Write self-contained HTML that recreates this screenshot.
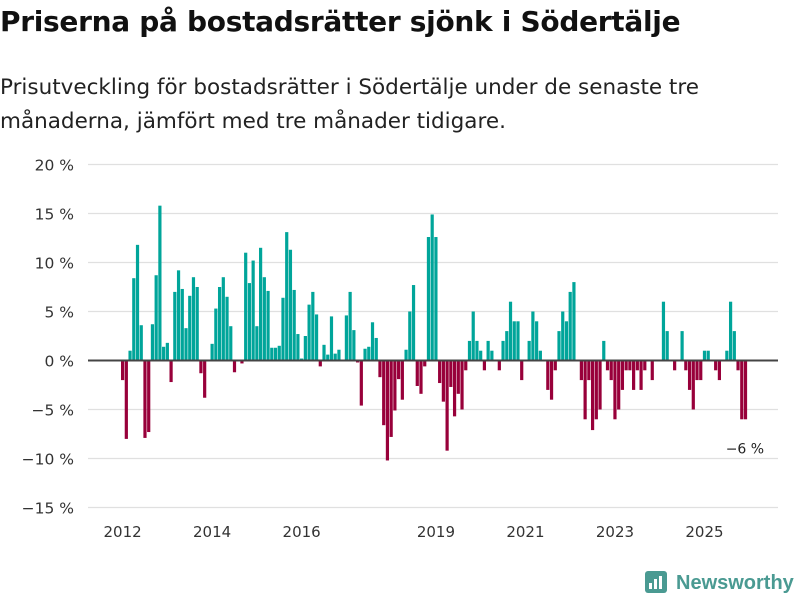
<!DOCTYPE html>
<html><head><meta charset="utf-8">
<style>
body{margin:0;background:#fff;font-family:"DejaVu Sans","Liberation Sans",sans-serif;}
#wrap{position:relative;width:800px;height:600px;overflow:hidden;}
h1{position:absolute;left:0;top:5px;margin:0;font-size:28px;font-weight:bold;color:#111;letter-spacing:-0.3px}
.sub{position:absolute;left:0;top:71px;margin:0;font-size:21.5px;line-height:34px;color:#222;}
</style></head><body>
<div id="wrap">
<h1>Priserna på bostadsrätter sjönk i Södertälje</h1>
<p class="sub">Prisutveckling för bostadsrätter i Södertälje under de senaste tre<br>månaderna, jämfört med tre månader tidigare.</p>
<svg id="chart" width="800" height="600" style="position:absolute;left:0;top:0"></svg>
</div>
<script>
const startYear = 2012;
const values = [
-2.0,-8.0,1.0,8.4,11.8,3.6,-7.9,-7.3,3.7,8.7,15.8,1.4,
1.8,-2.2,7.0,9.2,7.3,3.3,6.6,8.5,7.5,-1.3,-3.8,0,
1.7,5.3,7.5,8.5,6.5,3.5,-1.2,0,-0.3,11.0,7.9,10.2,
3.5,11.5,8.5,7.1,1.3,1.3,1.5,6.4,13.1,11.3,7.2,2.7,
0.2,2.5,5.7,7.0,4.7,-0.6,1.6,0.6,4.5,0.7,1.1,0,
4.6,7.0,3.1,-0.2,-4.6,1.2,1.4,3.9,2.3,-1.7,-6.6,-10.2,
-7.8,-5.1,-1.9,-4.0,1.1,5.0,7.7,-2.6,-3.4,-0.6,12.6,14.9,
12.6,-2.3,-4.2,-9.2,-2.7,-5.7,-3.4,-5.0,-1.0,2.0,5.0,2.0,
1.0,-1.0,2.0,1.0,0,-1.0,2.0,3.0,6.0,4.0,4.0,-2.0,
0,2.0,5.0,4.0,1.0,0,-3.0,-4.0,-1.0,3.0,5.0,4.0,
7.0,8.0,0,-2.0,-6.0,-2.0,-7.1,-6.0,-5.0,2.0,-1.0,-2.0,
-6.0,-5.0,-3.0,-1.0,-1.0,-3.0,-1.0,-3.0,-1.0,0,-2.0,0,
0,6.0,3.0,0,-1.0,0,3.0,-1.0,-3.0,-5.0,-2.0,-2.0,
1.0,1.0,0,-1.0,-2.0,0,1.0,6.0,3.0,-1.0,-6.0,-6.0
];
const yTicks = [20,15,10,5,0,-5,-10,-15];
const xTickYears = [2012,2014,2016,2019,2021,2023,2025];
const lastLabel = "−6 %";

const svg = document.getElementById('chart');
const NS = 'http://www.w3.org/2000/svg';
const FONT = 'DejaVu Sans, Liberation Sans, sans-serif';
const y = v => 360.5 - v * 9.8;
const xm = m => 121 + m * 3.73;
function mk(tag, attrs){const e=document.createElementNS(NS,tag);for(const k in attrs)e.setAttribute(k,attrs[k]);svg.appendChild(e);return e;}

yTicks.forEach(t=>{
  if(t!==0){
    const g=mk('line',{x1:88,x2:778,y1:y(t),y2:y(t),stroke:'#e0e0e0','stroke-width':1.2});
    
    
  }
  const tx=mk('text',{x:74,y:y(t)+6,'text-anchor':'end','font-size':15.5,fill:'#333','font-family':FONT});
  tx.textContent=(t<0?'−'+(-t):t)+' %';
  
  
});

values.forEach((v,i)=>{
  if(v===0) return;
  const y0=y(0), y1=y(v);
  const r=mk('rect',{x:xm(i),y:Math.min(y0,y1),width:3.2,height:Math.abs(y1-y0),fill:v>0?'#00a59a':'#98003a'});
  
  
});

const zl=mk('line',{x1:88,x2:778,y1:y(0),y2:y(0),stroke:'#444','stroke-width':2});



xTickYears.forEach(yr=>{
  const m=(yr-startYear)*12;
  const t=mk('text',{x:xm(m)+1.6,y:537,'text-anchor':'middle','font-size':15,fill:'#333','font-family':FONT});
  t.textContent=yr;
  
  
});

const li=values.length-1;
const ll=mk('text',{x:xm(li)+1,y:y(values[li])+34,'text-anchor':'middle','font-size':14,fill:'#222','font-family':FONT});
ll.textContent=lastLabel;



const lg=mk('rect',{x:645,y:571,width:22,height:22,rx:3,fill:'#4a9a92'});


[[649,583,3,6],[654,579,3,10],[659,576,3,13]].forEach(b=>{
  const r=mk('rect',{x:b[0],y:b[1],width:b[2],height:b[3],fill:'#fff'});
  
  
});
const lt=mk('text',{x:676,y:589,'font-size':20,'font-weight':'bold',fill:'#4a9a92','font-family':'Liberation Sans, sans-serif'});
lt.textContent='Newsworthy';


</script>
</body></html>
